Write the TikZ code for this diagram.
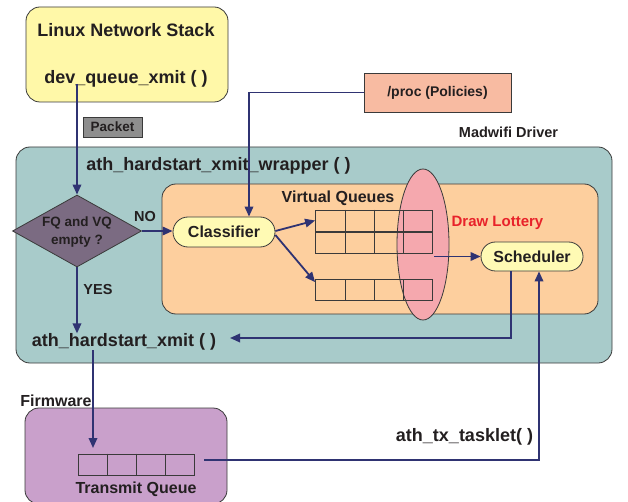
\documentclass[tikz,border=0pt]{standalone}
\usepackage{fontspec}
\setmainfont{Liberation Sans}
\usetikzlibrary{shapes.geometric,shapes.misc,arrows.meta}
\definecolor{linec}{HTML}{3A3A3A}
\definecolor{txt}{HTML}{231F20}
\definecolor{navy}{HTML}{2F3372}
\definecolor{yel}{HTML}{FFF8A8}
\definecolor{pill}{HTML}{FFFAB4}
\definecolor{teal}{HTML}{A8CBCA}
\definecolor{orng}{HTML}{FDCF9E}
\definecolor{pink}{HTML}{F5A8AE}
\definecolor{procc}{HTML}{F8BBA2}
\definecolor{pkt}{HTML}{8E8E8E}
\definecolor{diac}{HTML}{7B6B82}
\definecolor{purp}{HTML}{C9A0CB}
\definecolor{lott}{HTML}{E8222A}
\begin{document}
\begin{tikzpicture}[x=1pt,y=-1pt,
  box/.style={draw=linec, line width=0.8pt, rounded corners=14pt, inner sep=0pt},
  sqbox/.style={draw=linec, line width=0.8pt, inner sep=0pt},
  pillbox/.style={draw=linec, line width=0.8pt, rounded rectangle, fill=pill, inner sep=0pt, text=txt, font=\bfseries\fontsize{16}{19}\selectfont},
  tA/.style={inner sep=0pt, text=txt, font=\bfseries\fontsize{18}{21}\selectfont},
  tB/.style={inner sep=0pt, text=txt, font=\bfseries\fontsize{16}{19}\selectfont},
  tC/.style={inner sep=0pt, text=txt, font=\bfseries\fontsize{14.5}{17}\selectfont},
  qrow/.style={draw=linec, line width=0.8pt, minimum width=117pt, minimum height=21pt, inner sep=0pt},
  arr/.style={draw=navy, line width=1.8pt, -{Triangle[length=10pt,width=8.5pt]}},
  ln/.style={draw=navy, line width=1.8pt}]
\useasboundingbox (0,0) rectangle (628,502);

% Linux network stack
\node[box, fill=yel, minimum width=202pt, minimum height=95pt] (lns) at (127,54.5) {};
\node[tA] (lnst) at (126,30) {Linux Network Stack};
\node[tA] (dqx) at (126,79) {dev\_queue\_xmit ( )};

% proc box
\node[sqbox, fill=procc, minimum width=147pt, minimum height=39pt, font=\bfseries\fontsize{14}{17}\selectfont, text=txt] (proc) at (437.5,92.5) {/proc (Policies)};
\node[tC] (mad) at (508.5,132) {Madwifi Driver};

% driver boxes
\node[box, fill=teal, minimum width=596pt, minimum height=216pt] (drv) at (314,255) {};
\node[box, fill=orng, minimum width=436pt, minimum height=130pt] (vqb) at (380,249) {};
\node[tA] (wrap) at (218.5,166) {ath\_hardstart\_xmit\_wrapper ( )};
\node[tB] (vqt) at (338,198) {Virtual Queues};

% packet label
\node[sqbox, fill=pkt, minimum width=59pt, minimum height=20pt, text=txt, font=\bfseries\fontsize{13.5}{16}\selectfont] (pk) at (112.5,127) {Packet};

% lottery ellipse
\node[ellipse, draw=linec, line width=0.8pt, fill=pink, minimum width=52pt, minimum height=151pt, inner sep=0pt] (lot) at (423,244.5) {};
\node[inner sep=0pt, text=lott, font=\bfseries\fontsize{15}{18}\selectfont] (dl) at (497.5,223) {Draw Lottery};

% queue rows
\node[qrow] (q1) at (374,220.5) {};
\node[qrow] (q2) at (374,243) {};
\node[qrow] (q3) at (374,290) {};
\foreach \r in {q1,q2,q3}{
  \foreach \dx in {30,59,88}{
    \draw[linec, line width=0.8pt] ([xshift=\dx pt]\r.north west) -- ([xshift=\dx pt]\r.south west);
  }
}

% diamond
\node[diamond, draw=linec, line width=0.8pt, fill=diac, minimum width=129pt, minimum height=72pt, inner sep=0pt] (dia) at (77,231) {};
\node[inner sep=0pt, align=center, text=txt, font=\bfseries\fontsize{13.5}{18}\selectfont] (diat) at (77,232) {FQ and VQ\\empty ?};
\node[tC] (no) at (145,217) {NO};
\node[tC] (yes) at (98,290) {YES};

% pills
\node[pillbox, minimum width=102pt, minimum height=30pt] (cls) at (224,232) {Classifier};
\node[pillbox, minimum width=102pt, minimum height=29pt] (sch) at (532,256.5) {Scheduler};

\node[tA] (hx) at (124,342) {ath\_hardstart\_xmit ( )};

% firmware
\node[tB] (fw) at (56,401) {Firmware};
\node[box, fill=purp, minimum width=202pt, minimum height=96pt] (fwb) at (126,456) {};
\node[qrow, minimum width=116pt] (tq) at (136,464.5) {};
\foreach \dx in {30,59,88}{
  \draw[linec, line width=0.8pt] ([xshift=\dx pt]tq.north west) -- ([xshift=\dx pt]tq.south west);
}
\node[tB] (tqt) at (136,489) {Transmit Queue};
\node[tA] (atl) at (464.5,437) {ath\_tx\_tasklet( )};

% connectors
\coordinate (p0) at (77,84);
\draw[arr] (p0) -- (dia.north);
\draw[arr] (proc.west) -| ([xshift=25pt]cls.north);
\draw[arr] (dia.east) -- (dia.east -| cls.west);
\draw[arr] ([yshift=1pt]cls.east) -- (q1.west);
\draw[arr] ([yshift=-3pt]cls.east) -- ([yshift=-3pt]q3.north west);
\coordinate (e1) at (434,256.5);
\draw[arr] (e1) -- (sch.west);
\coordinate (hxr) at (230,338);
\draw[arr] ([xshift=-21pt]sch.south) |- (hxr);
\draw[arr] (dia.south) -- (dia.south |- hx.north);
\coordinate (h0) at (93,350);
\coordinate (h1) at (93,448);
\draw[arr] (h0) -- (h1);
\coordinate (t0) at (204,460);
\draw[arr] (t0) -| ([xshift=7pt]sch.south);
\end{tikzpicture}
\end{document}
